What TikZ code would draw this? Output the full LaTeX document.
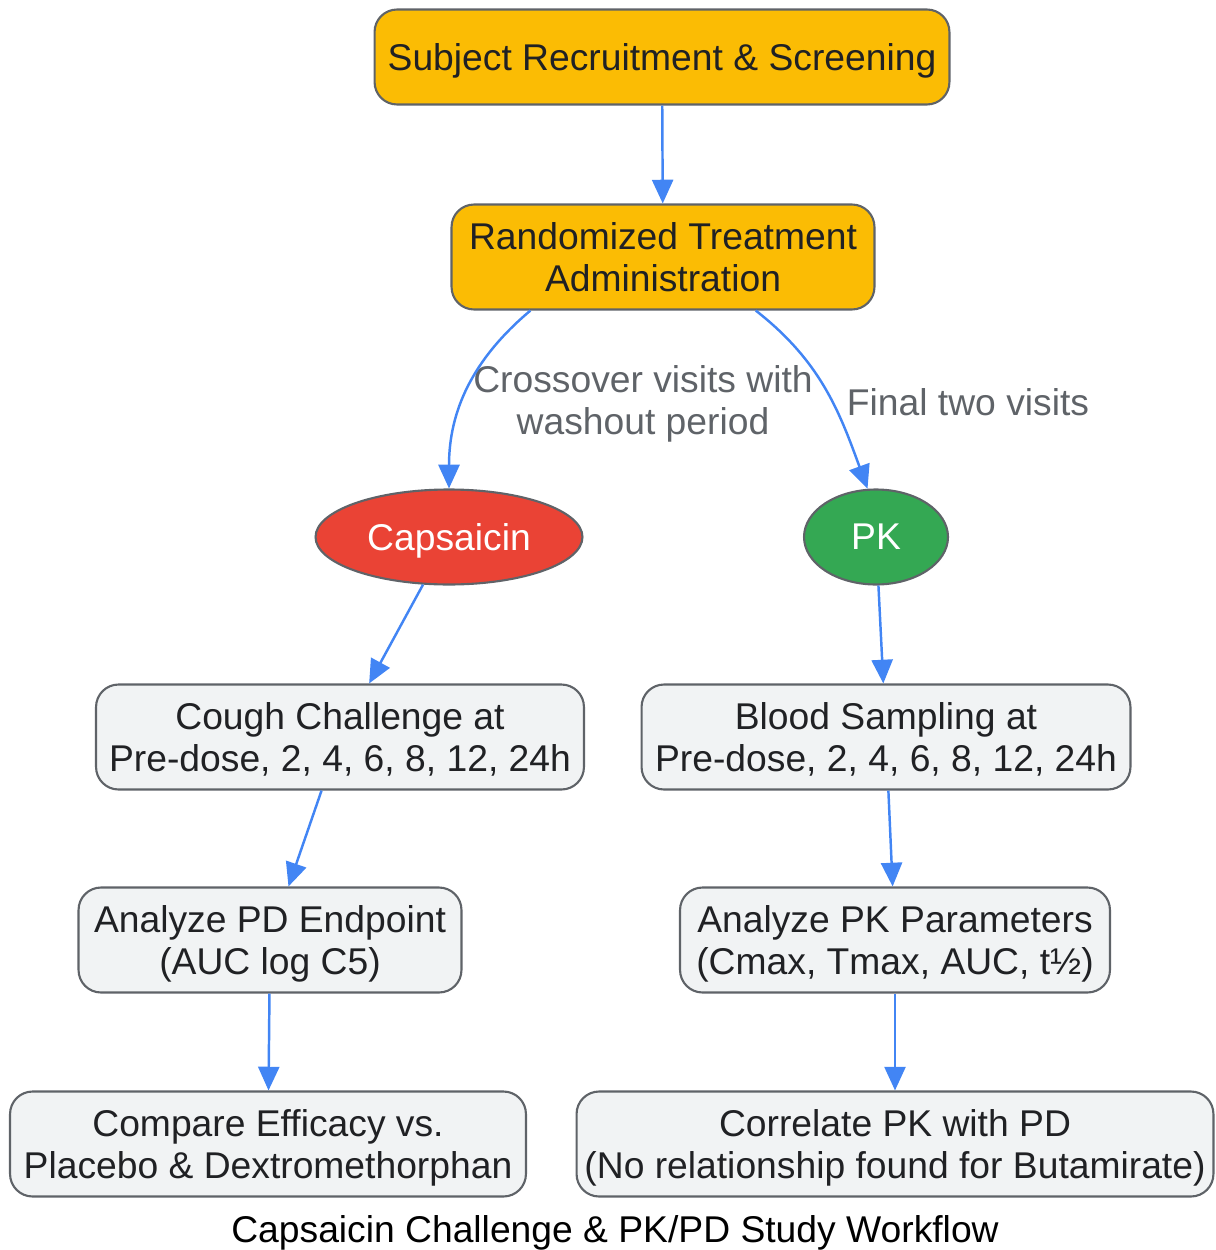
\documentclass[tikz,border=0pt]{standalone}
\usepackage{fontspec}
\setmainfont{Liberation Sans}
\usetikzlibrary{shapes.geometric, arrows.meta, positioning}

\definecolor{gyellow}{HTML}{FBBC04}
\definecolor{gred}{HTML}{EA4335}
\definecolor{ggreen}{HTML}{34A853}
\definecolor{gblue}{HTML}{4285F4}
\definecolor{gfill}{HTML}{F1F3F4}
\definecolor{gborder}{HTML}{5F6368}
\definecolor{gtext}{HTML}{202124}

\begin{document}
\begin{tikzpicture}[
    x=0.02cm, y=-0.02cm,
    every node/.style = {font=\fontsize{21.2}{23.8}\selectfont, text=gtext},
    process/.style   = {rectangle, draw=gborder, line width=1.2pt, fill=gfill,
                        rounded corners=0.45cm, align=center, inner sep=0pt,
                        text depth=-0.09cm, minimum height=2.1cm},
    start/.style     = {process, fill=gyellow},
    branch/.style    = {ellipse, draw=gborder, line width=1.2pt, text=white,
                        inner sep=0pt, text depth=-0.09cm, minimum height=1.9cm},
    edgelabel/.style = {text=gborder, align=center},
    flow/.style      = {-{Triangle[length=13.5pt,width=12pt]}, draw=gblue, line width=1.4pt}
  ]
  \useasboundingbox (0,0) rectangle (1215,1250);

  % top of the workflow
  \node[start, minimum width=11.5cm, minimum height=1.9cm] (recruit) at (662,57)
       {Subject Recruitment \& Screening};
  \node[start, minimum width=8.46cm] (random) at (663,257)
       {Randomized Treatment\\Administration};

  % the two arms
  \node[branch, fill=gred, minimum width=5.34cm] (caps) at (449,537) {Capsaicin};
  \node[branch, fill=ggreen, minimum width=2.88cm] (pk) at (876,537) {PK};

  % PD arm
  \node[process, minimum width=9.76cm] (cough) at (340,737)
       {Cough Challenge at\\Pre-dose, 2, 4, 6, 8, 12, 24h};
  \node[process, minimum width=7.66cm] (pdend) at (270,940)
       {Analyze PD Endpoint\\(AUC log C5)};
  \node[process, minimum width=10.32cm] (compare) at (268,1144)
       {Compare Efficacy vs.\\Placebo \& Dextromethorphan};

  % PK arm
  \node[process, minimum width=9.78cm] (blood) at (886,737)
       {Blood Sampling at\\Pre-dose, 2, 4, 6, 8, 12, 24h};
  \node[process, minimum width=8.6cm] (pkpar) at (895,940)
       {Analyze PK Parameters\\(Cmax, Tmax, AUC, t½)};
  \node[process, minimum width=12.74cm] (correl) at (895,1144)
       {Correlate PK with PD\\(No relationship found for Butamirate)};

  % edge labels and caption
  \node[edgelabel] (lblcross) at (643,404) {Crossover visits with\\washout period};
  \node[edgelabel] (lblfinal) at (968,402) {Final two visits};
  \node[text=black] (caption) at (615,1233) {Capsaicin Challenge \& PK/PD Study Workflow};

  % arrows
  \draw[flow] (recruit) -- (random);
  \draw[flow] (random.-158) to[out=-140,in=90] (caps.north);
  \draw[flow] (random.-30) to[out=-38,in=110] (pk.100);
  \draw[flow] (caps) -- (cough);
  \draw[flow] (cough) -- (pdend);
  \draw[flow] (pdend) -- (compare);
  \draw[flow] (pk) -- (blood);
  \draw[flow] (blood) -- (pkpar);
  \draw[flow] (pkpar) -- (correl);

\end{tikzpicture}
\end{document}
